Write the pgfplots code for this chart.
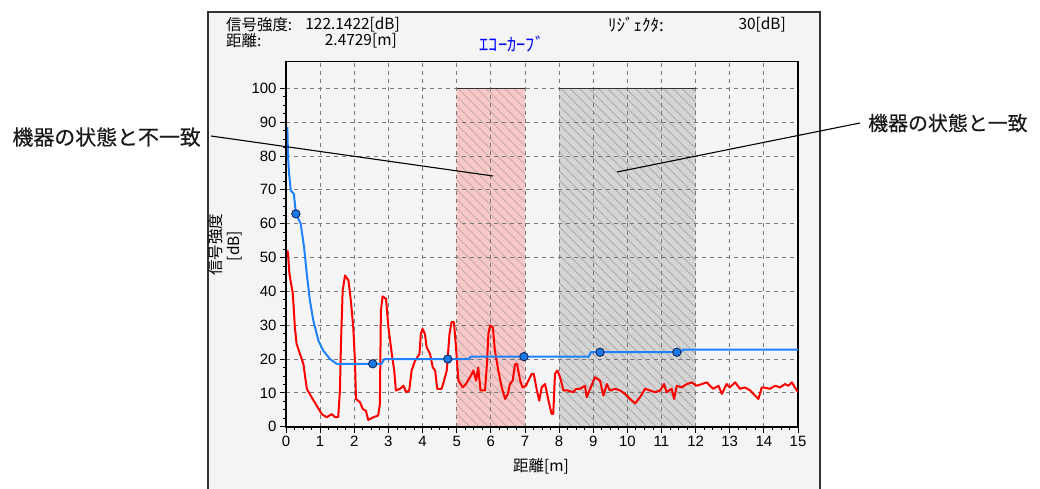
\documentclass[border=0pt]{standalone}
\usepackage{fontspec}
\setmainfont{Liberation Sans}
\newfontfamily\jp{Noto Sans CJK JP}
\newfontfamily\jpb{Noto Sans CJK JP}[FakeBold=0.4]
\usepackage{pgfplots}
\pgfplotsset{compat=1.18}
\usetikzlibrary{patterns.meta}
\definecolor{panelbg}{RGB}{244,244,244}
\definecolor{axisbg}{RGB}{245,245,245}
\definecolor{pinkfill}{RGB}{248,200,200}
\definecolor{grayfill}{RGB}{212,212,212}
\definecolor{hatchpink}{RGB}{190,165,165}
\definecolor{hatchgray}{RGB}{165,165,165}
\definecolor{echoblue}{RGB}{30,130,255}
\definecolor{mkfill}{RGB}{25,120,230}
\definecolor{mkdraw}{RGB}{20,40,90}
\definecolor{gridgray}{RGB}{120,120,120}
\pgfplotsset{common/.style={
  at={(286bp,62.3bp)}, anchor=south west,
  scale only axis, width=512bp, height=365.5bp,
  xmin=0, xmax=15, ymin=0, ymax=108}}
\begin{document}
\begin{tikzpicture}
\fill[white] (0,0) rectangle (1040bp,489bp);
\fill[panelbg] (208bp,0) rectangle (820bp,477bp);
\draw[line width=1.3bp, black!80] (208bp,0) -- (208bp,477bp) -- (820bp,477bp) -- (820bp,0);
% background axis: fill and shaded regions
\begin{axis}[common,
  xtick=\empty, ytick=\empty,
  axis line style={draw=none},
  axis background/.style={fill=axisbg},
]
\addplot[draw=none, fill=pinkfill,
  postaction={pattern color=hatchpink, pattern={Lines[angle=-45,distance=6.6bp,line width=0.7bp]}}]
  coordinates {(5,0)(5,100)(7,100)(7,0)} \closedcycle;
\addplot[draw=none, fill=grayfill,
  postaction={pattern color=hatchgray, pattern={Lines[angle=-45,distance=6.6bp,line width=0.7bp]}}]
  coordinates {(8,0)(8,100)(12,100)(12,0)} \closedcycle;
\end{axis}
% main axis
\begin{axis}[common,
  name=ax,
  xtick={0,1,...,15}, ytick={0,10,...,100},
  minor tick num=3,
  tick align=outside, xtick pos=bottom, ytick pos=left,
  major tick length=6bp, minor tick length=3bp,
  tick style={black, line width=0.8bp},
  grid=major,
  major grid style={dash pattern=on 4bp off 4bp, gridgray, line width=0.8bp},
  axis line style={black, line width=1.2bp},
  tick label style={font=\fontsize{15}{16}\selectfont},
  /pgf/number format/assume math mode=true,
]
\draw[black!80, line width=1.2bp] (axis cs:5,100) -- (axis cs:7,100);
\draw[black!80, line width=1.2bp] (axis cs:8,100) -- (axis cs:12,100);
% red curve
\addplot[red, line width=2bp, line join=round] coordinates {
(0.04,52.1)(0.06,51)(0.1,45.2)(0.2,39.3)(0.26,29.4)(0.31,24.5)(0.41,21.5)(0.51,18.5)(0.61,11.2)(0.75,8.7)(0.9,6.2)(1.05,3.7)(1.19,2.8)(1.34,3.7)(1.44,2.8)(1.53,2.8)(1.58,10.7)(1.61,24.5)(1.66,40.2)(1.73,44.7)(1.83,43.2)(1.9,37.3)(1.97,29.4)(2.02,19.5)(2.05,8.2)(2.17,7.2)(2.25,5.2)(2.34,4.7)(2.41,2.0)(2.56,2.8)(2.7,3.3)(2.75,6.7)(2.78,34.3)(2.83,38.5)(2.93,37.8)(3.0,29.4)(3.1,21.5)(3.17,16.6)(3.22,10.7)(3.34,11.2)(3.44,12.1)(3.52,10.2)(3.61,10.7)(3.68,16.6)(3.78,19.5)(3.91,21.5)(3.95,27.4)(4.0,28.9)(4.07,27.4)(4.12,23.5)(4.22,21.5)(4.3,17.5)(4.37,16.6)(4.43,11.2)(4.56,11.2)(4.63,13.6)(4.71,16.6)(4.79,27.4)(4.85,30.9)(4.92,30.9)(4.98,23.5)(5.05,13.6)(5.18,11.6)(5.27,12.6)(5.39,14.6)(5.49,16.6)(5.57,13.6)(5.63,17.5)(5.7,10.7)(5.83,10.7)(5.88,17.5)(5.93,27.4)(5.98,29.9)(6.06,29.4)(6.12,22.5)(6.22,16.6)(6.32,11.6)(6.42,8.2)(6.5,9.7)(6.56,12.6)(6.64,13.6)(6.71,18.5)(6.77,18.5)(6.86,13.6)(6.93,11.6)(7.03,12.1)(7.1,13.6)(7.2,15.6)(7.26,15.6)(7.35,10.7)(7.42,7.7)(7.49,11.6)(7.59,12.6)(7.69,7.7)(7.78,3.8)(7.83,3.8)(7.88,15.6)(7.95,16.6)(8.03,14.6)(8.13,10.7)(8.25,10.7)(8.42,10.2)(8.5,11.2)(8.61,11.2)(8.76,12.1)(8.81,8.7)(8.91,11.2)(9.05,14.6)(9.2,13.6)(9.3,9.2)(9.4,12.6)(9.49,10.7)(9.64,11.2)(9.79,10.7)(9.93,9.7)(10.08,8.2)(10.23,6.9)(10.37,8.7)(10.52,11.2)(10.67,10.7)(10.81,10.2)(10.96,10.7)(11.08,12.6)(11.15,10.2)(11.3,11.2)(11.37,8.2)(11.45,12.1)(11.59,11.6)(11.74,12.6)(11.89,13.1)(12.03,12.1)(12.18,12.6)(12.33,13.1)(12.42,12.1)(12.52,11.2)(12.67,12.1)(12.77,9.7)(12.91,12.6)(13.0,11.6)(13.16,13.1)(13.3,11.2)(13.45,11.6)(13.6,10.7)(13.74,9.2)(13.84,8.2)(13.94,11.6)(14.04,11.5)(14.18,11.2)(14.33,12.1)(14.47,11.6)(14.62,12.6)(14.72,12.1)(14.82,13.1)(14.91,11.6)(15.0,10.2)
};
% blue echo curve
\addplot[echoblue, line width=2bp, line join=round] coordinates {
(0.04,88.6)(0.05,84)(0.06,79.7)(0.09,74.8)(0.14,69.8)(0.23,68.8)(0.29,62.9)(0.43,60)(0.53,53)(0.61,45)(0.7,37.3)(0.8,31.4)(0.95,25.4)(1.09,22.5)(1.29,20.0)(1.48,18.6)(2.8,18.6)(2.88,20.0)(5.35,20.0)(5.42,20.7)(8.87,20.7)(8.93,22.0)(11.57,22.0)(11.63,22.8)(15,22.8)
};
\addplot[only marks, mark=*, mark size=4.2bp, mark options={fill=mkfill, draw=mkdraw, line width=0.9bp}] coordinates {
(0.29,62.9)(2.54,18.6)(4.74,20.0)(6.97,20.7)(9.2,22.0)(11.45,22.0)
};
\end{axis}
\draw[black, line width=2.2bp] (ax.north west) -- (ax.south west) -- (ax.south east);
% header
\begin{scope}[every node/.style={inner sep=0pt, font=\jp\fontsize{15.5}{16}\selectfont}]
\node[anchor=west] at (226bp,464bp) {信号強度:};
\node[anchor=east] at (400bp,464bp) {122.1422[dB]};
\node[anchor=west] at (226bp,448bp) {距離:};
\node[anchor=east] at (397bp,448bp) {2.4729[m]};
\node[text=blue, font=\jp\fontsize{18.5}{19}\selectfont] at (512bp,445bp) {ｴｺｰｶｰﾌﾞ};
\node[anchor=west, font=\jp\fontsize{17}{18}\selectfont] at (608bp,464bp) {ﾘｼﾞｪｸﾀ:};
\node[anchor=east] at (786bp,464bp) {30[dB]};
\node[rotate=90] at (216bp,244bp) {信号強度};
\node[rotate=90] at (235bp,243bp) {[dB]};
\node at (541bp,23bp) {距離[m]};
\end{scope}
% annotations
\node[anchor=east, inner sep=0pt, text=black!90, font=\jpb\fontsize{21}{22}\selectfont] at (201bp,352bp) {機器の状態と不一致};
\node[anchor=west, inner sep=0pt, text=black!90, font=\jpb\fontsize{20}{22}\selectfont] at (868bp,366bp) {機器の状態と一致};
\draw[black, line width=1.1bp] (211bp,353bp) -- (493bp,313bp);
\draw[black, line width=1.1bp] (860bp,366bp) -- (617bp,317bp);
\pgfresetboundingbox
\useasboundingbox (0,0) rectangle (1040bp,489bp);
\end{tikzpicture}
\end{document}
